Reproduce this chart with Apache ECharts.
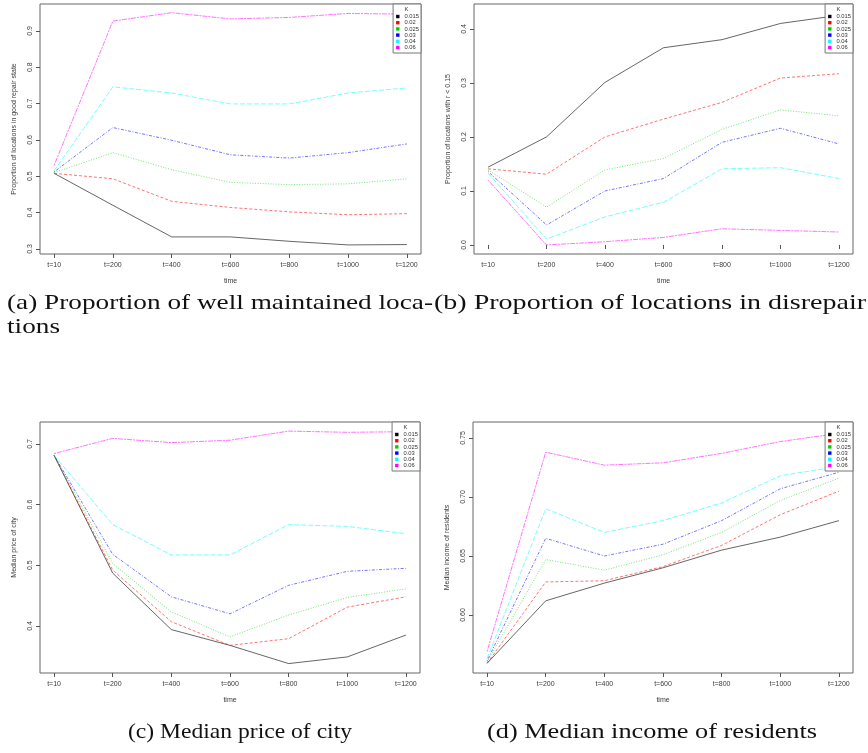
<!DOCTYPE html>
<html>
<head>
<meta charset="utf-8">
<title>Neighbourhood simulation results by K</title>
<script src="https://cdn.jsdelivr.net/npm/echarts@6/dist/echarts.min.js"></script>
<style>
  html, body { margin: 0; padding: 0; background: #fff; }
  #chart { width: 868px; height: 753px; }
</style>
</head>
<body>
<div id="chart"></div>
<script>
// Time steps on the x axis and the K values in the legend
const timeLabels = ['t=10', 't=200', 't=400', 't=600', 't=800', 't=1000', 't=1200'];
const kLabels = ['0.015', '0.02', '0.025', '0.03', '0.04', '0.06'];
const kColors = ['#000000', '#ff0000', '#00cd00', '#0000ff', '#00ffff', '#ff00ff'];

// (a) proportion of locations in good repair state, one row per K
const goodRepair = [
  [0.508, 0.420, 0.333, 0.333, 0.321, 0.311, 0.312],
  [0.508, 0.493, 0.431, 0.414, 0.402, 0.394, 0.397],
  [0.510, 0.565, 0.518, 0.483, 0.477, 0.479, 0.493],
  [0.512, 0.634, 0.599, 0.559, 0.550, 0.565, 0.589],
  [0.515, 0.746, 0.729, 0.699, 0.699, 0.729, 0.743],
  [0.530, 0.927, 0.950, 0.933, 0.937, 0.948, 0.946]
];

// (b) proportion of locations with r < 0.15
const disrepair = [
  [0.144, 0.200, 0.301, 0.365, 0.380, 0.410, 0.425],
  [0.141, 0.131, 0.200, 0.233, 0.264, 0.309, 0.317],
  [0.139, 0.070, 0.139, 0.160, 0.214, 0.250, 0.239],
  [0.136, 0.037, 0.100, 0.123, 0.190, 0.216, 0.187],
  [0.133, 0.011, 0.052, 0.079, 0.141, 0.143, 0.123],
  [0.120, 0.000, 0.006, 0.014, 0.030, 0.027, 0.024]
];

// (c) median price of city
const medianPrice = [
  [0.681, 0.487, 0.394, 0.368, 0.338, 0.349, 0.385],
  [0.681, 0.492, 0.407, 0.368, 0.379, 0.431, 0.448],
  [0.681, 0.503, 0.423, 0.382, 0.418, 0.447, 0.461],
  [0.681, 0.518, 0.448, 0.420, 0.467, 0.490, 0.495],
  [0.681, 0.567, 0.517, 0.517, 0.567, 0.564, 0.552],
  [0.684, 0.709, 0.702, 0.706, 0.721, 0.719, 0.720]
];

// (d) median income of residents
const medianIncome = [
  [0.559, 0.612, 0.627, 0.640, 0.655, 0.666, 0.680],
  [0.559, 0.628, 0.629, 0.641, 0.659, 0.685, 0.705],
  [0.560, 0.647, 0.638, 0.651, 0.670, 0.697, 0.716],
  [0.561, 0.665, 0.650, 0.660, 0.680, 0.707, 0.721],
  [0.563, 0.690, 0.670, 0.680, 0.695, 0.718, 0.726],
  [0.569, 0.738, 0.727, 0.729, 0.737, 0.747, 0.754]
];

// Y tick values for each panel
const yTicksA = [0.3, 0.4, 0.5, 0.6, 0.7, 0.8, 0.9];
const yTicksB = [0.0, 0.1, 0.2, 0.3, 0.4];
const yTicksC = [0.4, 0.5, 0.6, 0.7];
const yTicksD = [0.60, 0.65, 0.70, 0.75];

const yTitles = [
  'Proportion of locations in good repair state',
  'Proportion of locations with r < 0.15',
  'Median price of city',
  'Median income of residents'
];

const captions = [
  '(a) Proportion of well maintained loca-',
  '(b) Proportion of locations in disrepair',
  '(c) Median price of city',
  '(d) Median income of residents'
];

// Line patterns in the order of K (solid, dashed, dotted, dot-dash, long dash, two-dash)
const dashes = ['solid', [3, 2], [1, 1.6], [1, 1.6, 3, 1.6], [5, 2], [2, 1, 5, 1]];

const panels = [
  { data: goodRepair,   ticks: yTicksA, dec: 1, grid: { left: 40,  top: 4,   width: 381, height: 250 }, yMin: 0.286,  yMax: 0.974, legendRight: 447, legendTop: 4 },
  { data: disrepair,    ticks: yTicksB, dec: 1, grid: { left: 474, top: 4,   width: 379, height: 250 }, yMin: -0.0167, yMax: 0.446, legendRight: 15,  legendTop: 4 },
  { data: medianPrice,  ticks: yTicksC, dec: 1, grid: { left: 40,  top: 422, width: 380, height: 251 }, yMin: 0.3225, yMax: 0.736, legendRight: 448, legendTop: 422 },
  { data: medianIncome, ticks: yTicksD, dec: 2, grid: { left: 473, top: 422, width: 380, height: 251 }, yMin: 0.5508, yMax: 0.7636, legendRight: 15, legendTop: 422 }
];

const xPositions = timeLabels.map((_, j) => j + 1);
const axisText = { fontFamily: '"Liberation Sans", Arial, sans-serif', fontSize: 7, color: '#3a3a3a' };

const grids = [], xAxes = [], yAxes = [], series = [], legends = [], graphics = [];

panels.forEach((p, pi) => {
  grids.push(Object.assign({ show: true, borderColor: '#666', borderWidth: 1, backgroundColor: 'transparent' }, p.grid));

  xAxes.push({
    gridIndex: pi, type: 'value', min: 0.76, max: 7.24,
    name: 'time', nameLocation: 'middle', nameGap: 24,
    nameTextStyle: axisText,
    axisLine: { show: false },
    axisTick: { show: true, length: 4, customValues: xPositions, lineStyle: { color: '#555' } },
    axisLabel: Object.assign({ customValues: xPositions, margin: 8, formatter: v => timeLabels[Math.round(v) - 1] }, axisText),
    splitLine: { show: false }
  });

  yAxes.push({
    gridIndex: pi, type: 'value', min: p.yMin, max: p.yMax,
    name: yTitles[pi], nameLocation: 'middle', nameGap: 22, nameRotate: 90,
    nameTextStyle: axisText,
    axisLine: { show: false },
    axisTick: { show: true, length: 4, customValues: p.ticks, lineStyle: { color: '#555' } },
    axisLabel: Object.assign({ customValues: p.ticks, rotate: 90, margin: 6, formatter: v => v.toFixed(p.dec) }, axisText),
    splitLine: { show: false }
  });

  p.data.forEach((row, ki) => {
    series.push({
      type: 'line', name: kLabels[ki], xAxisIndex: pi, yAxisIndex: pi,
      data: row.map((v, j) => [xPositions[j], v]),
      symbol: 'none', silent: true,
      itemStyle: { color: kColors[ki] },
      lineStyle: { color: kColors[ki], width: 1, type: dashes[ki], opacity: ki === 0 ? 0.6 : 0.55 },
      emphasis: { disabled: true }
    });
  });

  legends.push({
    orient: 'vertical', right: p.legendRight, top: p.legendTop,
    data: kLabels, icon: 'rect', itemWidth: 3.4, itemHeight: 3.4, itemGap: 0.2,
    padding: [9.5, 2, 2.5, 3],
    borderColor: '#777', borderWidth: 1, backgroundColor: '#fff',
    selectedMode: false,
    textStyle: { fontFamily: '"Liberation Sans", Arial, sans-serif', fontSize: 5.8, lineHeight: 6, color: '#333', padding: 0 },
    itemStyle: { borderWidth: 0 }
  });
});

// Captions under the panels, set in a serif face and fitted to their line widths
const captionFont = '22px "Liberation Serif", "Times New Roman", serif';
const measure = document.createElement('canvas').getContext('2d');
measure.font = captionFont;
function stretchTo(text, width) { return width / measure.measureText(text).width; }

const captionSpecs = [
  { text: captions[0], x: 7,   y: 303, align: 'left',   width: 426 },
  { text: 'tions',     x: 7,   y: 327, align: 'left',   width: 48 },
  { text: captions[1], x: 434, y: 303, align: 'left',   width: 432 },
  { text: captions[2], x: 240, y: 732, align: 'center', width: 224 },
  { text: captions[3], x: 652, y: 732, align: 'center', width: 330 }
];
const baseScale = stretchTo(captions[0], 426);
captionSpecs.forEach((c, i) => {
  const s = i === 1 ? baseScale : stretchTo(c.text, c.width);
  graphics.push({
    type: 'text', x: c.x, y: c.y, scaleX: s, silent: true,
    style: { text: c.text, font: captionFont, fill: '#111', textAlign: c.align, textVerticalAlign: 'middle' }
  });
});

// Legend headings
[[406.5, 9], [838.5, 9], [405.5, 427], [838.5, 427]].forEach(([x, y]) => {
  graphics.push({
    type: 'text', x: x, y: y, z: 100, silent: true,
    style: { text: 'K', font: '5.8px "Liberation Sans", Arial, sans-serif', fill: '#333', textAlign: 'center', textVerticalAlign: 'middle' }
  });
});

const chart = echarts.init(document.getElementById('chart'), null, { renderer: 'canvas' });
chart.setOption({
  animation: false,
  backgroundColor: '#fff',
  grid: grids,
  xAxis: xAxes,
  yAxis: yAxes,
  legend: legends,
  series: series,
  graphic: { elements: graphics }
});
</script>
</body>
</html>
